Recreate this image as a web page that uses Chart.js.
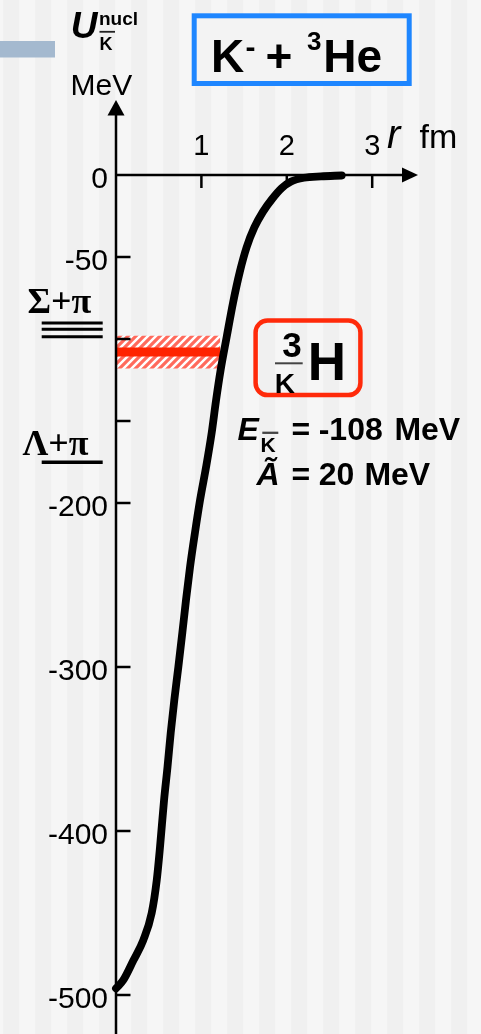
<!DOCTYPE html>
<html>
<head>
<meta charset="utf-8">
<script src="https://cdn.jsdelivr.net/npm/chart.js@4/dist/chart.umd.min.js"></script>
<style>
  html, body { margin: 0; padding: 0; background: #f5f5f5; }
  canvas { display: block; }
</style>
</head>
<body>
<canvas id="pot" width="481" height="1034"></canvas>
<script>
// Antikaon–nucleus potential for K- + 3He as a function of radius
const radiusFm = [0.00, 0.085, 0.203, 0.320, 0.418, 0.477, 0.515, 0.563, 0.603, 0.641, 0.683,
                  0.730, 0.777, 0.820, 0.867, 0.925, 0.985, 1.055, 1.121, 1.170, 1.225, 1.295,
                  1.370, 1.450, 1.530, 1.620, 1.720, 1.830, 1.940, 2.050, 2.200, 2.400, 2.643];
const potentialMeV = [-496, -491, -479, -466.5, -450, -430, -410, -381, -361, -340, -320,
                      -300, -279, -259, -239, -218, -198, -178, -157, -138, -119, -99,
                      -78, -59, -44, -32, -22.5, -14.5, -8, -4, -1.7, -0.8, -0.3];

const xTickValues = [1, 2, 3];
const xTickLabels = ['1', '2', '3'];
const yTickValues = [0, -50, -100, -150, -200, -300, -400, -500];
const yTickLabels = ['0', '-50', '', '', '-200', '-300', '-400', '-500'];

// bound state: binding energy and width (MeV); band drawn out to the potential wall
const bindingEnergy = -108;
const stateWidth = 20;
const bandEndR = 1.22;

const SANS = "'Liberation Sans', Arial, Helvetica, sans-serif";
const SERIF = "'Liberation Serif', 'Times New Roman', serif";

const canvas = document.getElementById('pot');
const ctx = canvas.getContext('2d');

function hatchPattern() {
  const c = document.createElement('canvas');
  c.width = 8; c.height = 8;
  const g = c.getContext('2d');
  g.fillStyle = '#ffffff';
  g.fillRect(0, 0, 8, 8);
  g.strokeStyle = '#ff6a5c';
  g.lineWidth = 3.2;
  g.beginPath();
  g.moveTo(-2, 10); g.lineTo(10, -2);
  g.moveTo(-6, 6);  g.lineTo(6, -6);
  g.moveTo(2, 14);  g.lineTo(14, 2);
  g.stroke();
  return ctx.createPattern(c, 'repeat');
}

function text(c, s, x, y, font, align) {
  c.font = font;
  c.textAlign = align || 'left';
  c.textBaseline = 'alphabetic';
  c.fillStyle = '#000';
  c.fillText(s, x, y);
}

function hline(c, x1, x2, y, w, color) {
  c.strokeStyle = color || '#000';
  c.lineWidth = w;
  c.beginPath();
  c.moveTo(x1, y);
  c.lineTo(x2, y);
  c.stroke();
}

const decor = {
  id: 'decor',
  beforeDraw(chart) {
    const c = chart.ctx;
    const W = chart.width, H = chart.height;
    c.save();
    // striped slide background
    c.fillStyle = '#f6f6f6';
    c.fillRect(0, 0, W, H);
    c.fillStyle = '#f0f0f0';
    for (let x = 3.3; x < W; x += 32) c.fillRect(x, 0, 16, H);
    // slide accent bar
    c.fillStyle = '#a4b9cf';
    c.fillRect(0, 41, 55, 16.5);
    // title box
    c.fillStyle = '#f3f3f3';
    c.fillRect(194, 16, 215, 67.5);
    c.strokeStyle = '#1e86ff';
    c.lineWidth = 5;
    c.strokeRect(194.2, 15.8, 215, 67.7);
    text(c, 'K', 211, 72, `bold 46px ${SANS}`);
    text(c, '-', 245.5, 57, `bold 30px ${SANS}`);
    text(c, '+', 265.5, 72, `bold 46px ${SANS}`);
    text(c, '3', 307, 50, `bold 26px ${SANS}`);
    text(c, 'He', 323.3, 72, `bold 46px ${SANS}`);
    c.restore();
  },
  afterDatasetsDraw(chart) {
    const c = chart.ctx;
    const xs = chart.scales.x, ys = chart.scales.y;
    const x0 = xs.getPixelForValue(0);
    const y0 = ys.getPixelForValue(0);
    c.save();
    c.lineCap = 'butt';
    // vertical axis with arrow
    c.strokeStyle = '#000';
    c.lineWidth = 2.5;
    c.beginPath();
    c.moveTo(x0, chart.height);
    c.lineTo(x0, 112);
    c.stroke();
    c.fillStyle = '#000';
    c.beginPath();
    c.moveTo(x0, 100);
    c.lineTo(x0 - 8.5, 115.5);
    c.lineTo(x0 + 8.5, 115.5);
    c.closePath();
    c.fill();
    // horizontal axis with arrow
    c.beginPath();
    c.moveTo(x0, y0);
    c.lineTo(405, y0);
    c.stroke();
    c.beginPath();
    c.moveTo(418, y0);
    c.lineTo(402, y0 - 7.5);
    c.lineTo(402, y0 + 7.5);
    c.closePath();
    c.fill();
    // inward tick marks
    yTickValues.forEach(v => {
      if (v === 0) return;
      const y = ys.getPixelForValue(v);
      hline(c, x0, x0 + 14.5, y, 2.5);
    });
    xTickValues.forEach(v => {
      const x = xs.getPixelForValue(v);
      c.beginPath();
      c.moveTo(x, y0 - 1);
      c.lineTo(x, y0 + 13);
      c.stroke();
    });

    // axis titles
    text(c, 'U', 70.7, 38.3, `italic bold 37px ${SANS}`);
    text(c, 'nucl', 99, 24.5, `bold 19px ${SANS}`);
    text(c, 'K', 99.5, 50, `bold 18px ${SANS}`);
    hline(c, 99.5, 115, 31.8, 1.8, '#222');
    text(c, 'MeV', 70.5, 95, `30px ${SANS}`);
    text(c, 'r', 387, 148, `italic 40px ${SANS}`);
    text(c, 'fm', 419.5, 148, `34px ${SANS}`);

    // decay thresholds
    text(c, 'Σ+π', 27.5, 313.3, `bold 36px ${SERIF}`);
    hline(c, 41.7, 102.7, 323, 3);
    hline(c, 41.7, 102.7, 329.2, 3);
    hline(c, 41.7, 102.7, 336.7, 3);
    text(c, 'Λ+π', 22.5, 455, `bold 36px ${SERIF}`);
    hline(c, 41.7, 102.7, 462.2, 3.5);

    // bound-state label box
    c.strokeStyle = '#ff2a0a';
    c.lineWidth = 4.5;
    c.beginPath();
    c.roundRect(255.6, 320.5, 104.8, 74.6, 12);
    c.stroke();
    text(c, '3', 282.3, 356.7, `bold 35px ${SANS}`);
    hline(c, 275, 302.7, 363.3, 2, '#444');
    text(c, 'K', 274.7, 393.3, `bold 28px ${SANS}`);
    text(c, 'H', 307.8, 380, `bold 53px ${SANS}`);

    // binding energy and width
    text(c, 'E', 237.5, 440, `italic bold 32px ${SANS}`);
    hline(c, 262.3, 278.3, 432.8, 2.3, '#444');
    text(c, 'K', 260.5, 451.7, `bold 21px ${SANS}`);
    text(c, '=', 300.8, 440, `bold 32px ${SANS}`, 'center');
    text(c, String(bindingEnergy), 318.7, 440, `bold 32px ${SANS}`);
    text(c, 'MeV', 394.4, 440, `bold 32px ${SANS}`);

    text(c, 'Ã', 256.5, 485, `italic bold 32px ${SANS}`);
    text(c, '=', 300.8, 485, `bold 32px ${SANS}`, 'center');
    text(c, String(stateWidth), 318.7, 485, `bold 32px ${SANS}`);
    text(c, 'MeV', 364.4, 485, `bold 32px ${SANS}`);
    c.restore();
  }
};

const curve = radiusFm.map((r, i) => ({ x: r, y: potentialMeV[i] }));
const bandTop = bindingEnergy + stateWidth / 2;
const bandBottom = bindingEnergy - stateWidth / 2;
const none = 'rgba(0,0,0,0)';

new Chart(ctx, {
  type: 'line',
  data: {
    datasets: [
      { data: curve, borderColor: '#000', borderWidth: 7.8, pointRadius: 0,
        cubicInterpolationMode: 'monotone', borderCapStyle: 'round', borderJoinStyle: 'round',
        fill: false, clip: false, order: 0 },
      { data: [{ x: 0, y: bindingEnergy }, { x: bandEndR, y: bindingEnergy }],
        borderColor: '#ff2400', borderWidth: 9, pointRadius: 0, fill: false, order: 1 },
      { data: [{ x: 0, y: bandTop }, { x: bandEndR, y: bandTop }],
        borderColor: none, borderWidth: 0, pointRadius: 0, fill: '+1',
        backgroundColor: hatchPattern(), order: 2 },
      { data: [{ x: 0, y: bandBottom }, { x: bandEndR, y: bandBottom }],
        borderColor: none, borderWidth: 0, pointRadius: 0, fill: false, order: 3 }
    ]
  },
  options: {
    responsive: false,
    animation: false,
    devicePixelRatio: 1,
    layout: { padding: { left: 0, top: 0, right: 108.8, bottom: 39 } },
    plugins: { legend: { display: false }, tooltip: { enabled: false } },
    scales: {
      x: {
        type: 'linear', position: 'top', min: 0, max: 3,
        afterFit: s => { s.height = 175; },
        afterBuildTicks: s => { s.ticks = xTickValues.map(v => ({ value: v })); },
        grid: { display: false, drawTicks: false },
        border: { display: false },
        ticks: { autoSkip: false, maxRotation: 0, padding: 11, color: '#000',
                 font: { family: SANS, size: 29 }, callback: (v, i) => xTickLabels[i] }
      },
      y: {
        type: 'linear', min: -500, max: 0,
        afterFit: s => { s.width = 116; },
        afterBuildTicks: s => { s.ticks = yTickValues.map(v => ({ value: v })); },
        grid: { display: false, drawTicks: false },
        border: { display: false },
        ticks: { autoSkip: false, padding: 8, labelOffset: 5, color: '#000',
                 font: { family: SANS, size: 30 }, callback: (v, i) => yTickLabels[i] }
      }
    }
  },
  plugins: [decor]
});
</script>
</body>
</html>
